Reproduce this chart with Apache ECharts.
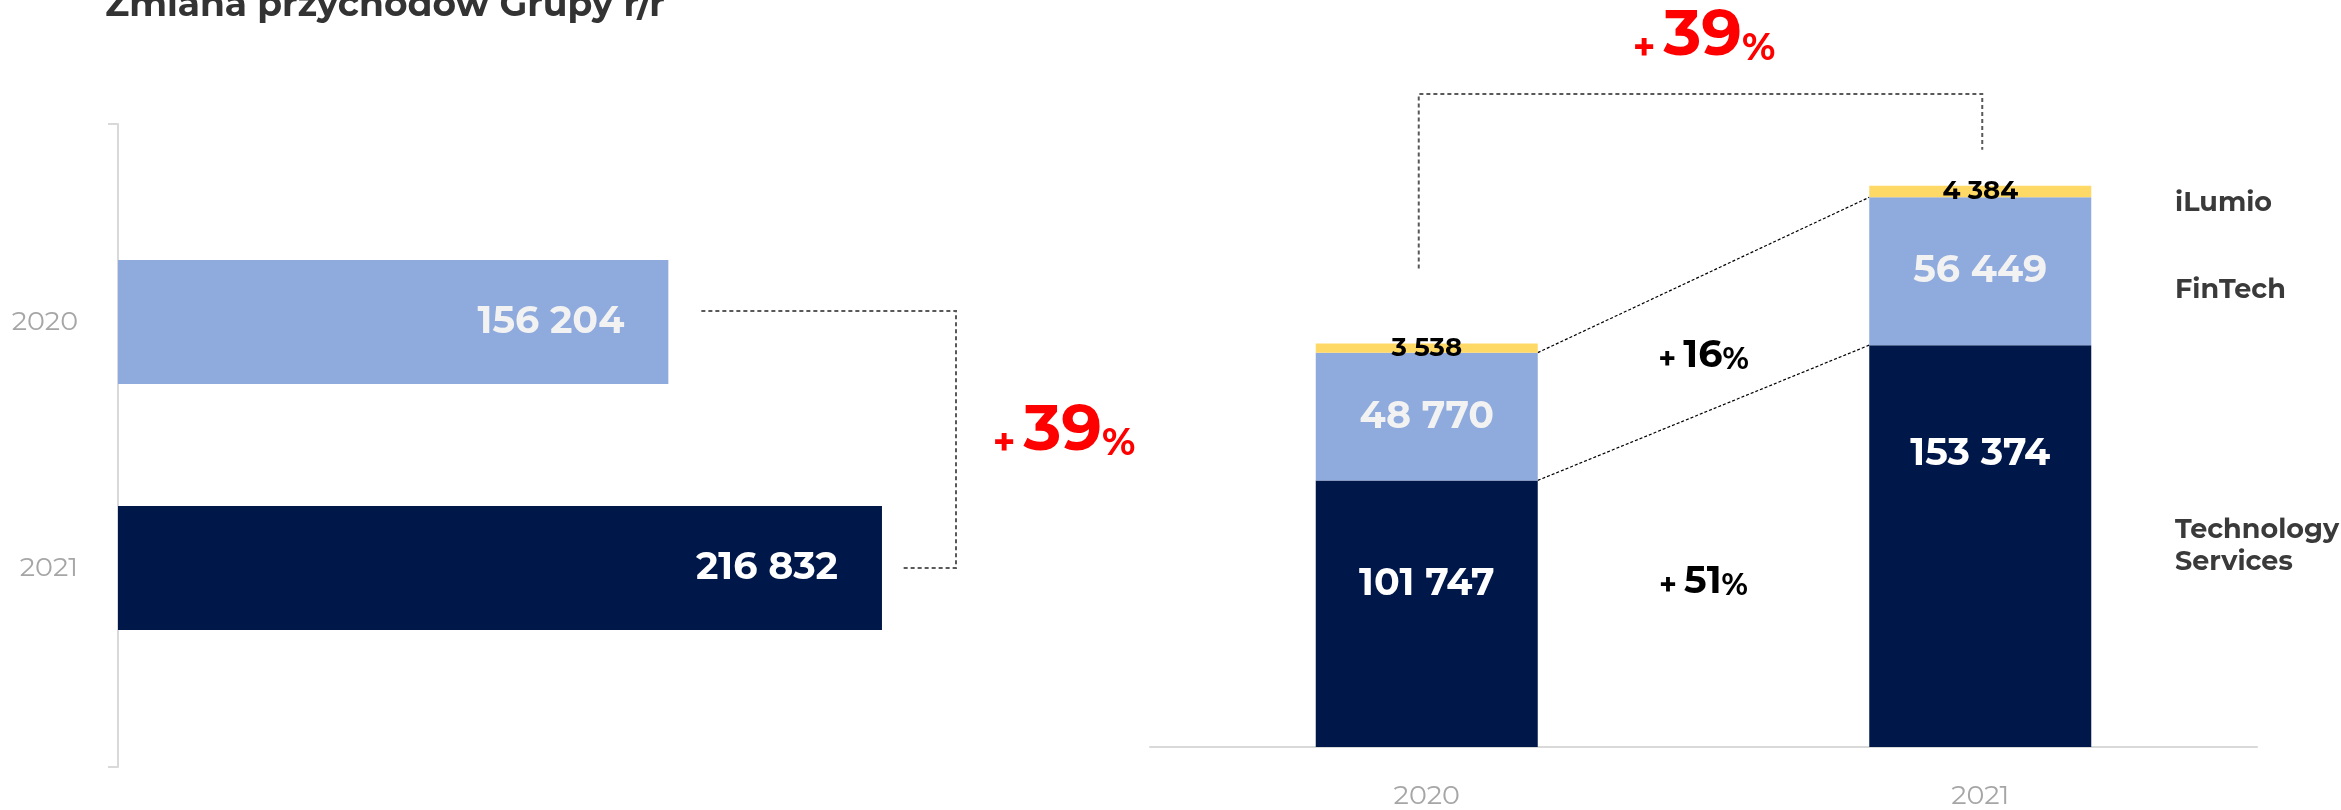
<!DOCTYPE html>
<html>
<head>
<meta charset="utf-8">
<script src="https://cdn.jsdelivr.net/npm/echarts@6/dist/echarts.min.js"></script>
<style>
  html, body { margin: 0; padding: 0; background: #fff; }
  #chart { width: 2341px; height: 810px; }
</style>
</head>
<body>
<div id="chart"></div>
<script>
  // dane (tys. PLN)
  const years = ['2020', '2021']
  const groupRevenue = [156204, 216832]
  const techServices = [101747, 153374]
  const finTech = [48770, 56449]
  const iLumio = [3538, 4384]
  const segmentNames = ['Technology Services', 'FinTech', 'iLumio']
  const growthTotal = '39'
  const growthFinTech = '16'
  const growthTech = '51'

  const FONT = "Montserrat, 'Open Sans', sans-serif"
  const NAVY = '#00174a'
  const BLUE = '#8faadc'
  const YELLOW = '#ffd966'
  const GREY_AXIS = '#d9d9d9'
  // przesunięcie etykiet ciemnych słupków (jak w prezentacji)
  const darkLabelShift = [-30, -92]

  const fmt = v => String(v).replace(/\B(?=(\d{3})+(?!\d))/g, ' ')

  const valueLabel = color => ({
    show: true,
    position: 'inside',
    color: color,
    fontFamily: FONT,
    fontWeight: 'bold',
    fontSize: 38,
    formatter: p => fmt(p.value)
  })

  const chart = echarts.init(document.getElementById('chart'))

  const option = {
    animation: false,
    textStyle: { fontFamily: FONT },
    title: {
      text: 'Zmiana przychodów Grupy r/r',
      left: 100,
      top: -18,
      textStyle: { fontSize: 36, fontWeight: 'bold', color: '#333333', fontFamily: FONT }
    },
    grid: [
      { left: 118, top: 199, width: 1057, height: 492 },
      { left: 118, top: 124, width: 10, height: 643 },
      { left: 1150, top: 92, width: 1107, height: 658 }
    ],
    xAxis: [
      { gridIndex: 0, type: 'value', min: 0, max: 300000, show: false },
      { gridIndex: 1, type: 'value', min: 0, max: 1, show: false },
      {
        gridIndex: 2,
        type: 'category',
        data: years,
        axisLine: { lineStyle: { color: GREY_AXIS, width: 2 } },
        axisTick: { length: 12, lineStyle: { color: GREY_AXIS, width: 2 } },
        axisLabel: { color: '#a6a6a6', fontSize: 27, margin: 36, fontFamily: FONT }
      }
    ],
    yAxis: [
      {
        gridIndex: 0,
        type: 'category',
        data: years,
        inverse: true,
        axisLine: { show: false },
        axisTick: { show: false },
        axisLabel: { color: '#a6a6a6', fontSize: 27, margin: 40, fontFamily: FONT }
      },
      {
        gridIndex: 1,
        type: 'value',
        min: 0,
        max: 1,
        interval: 1,
        axisLine: { show: true, lineStyle: { color: GREY_AXIS, width: 2 } },
        axisTick: { show: true, length: 10, lineStyle: { color: GREY_AXIS, width: 2 } },
        axisLabel: { show: false },
        splitLine: { show: false }
      },
      { gridIndex: 2, type: 'value', min: 0, max: 250000, show: false }
    ],
    series: [
      {
        name: 'Grupa',
        type: 'bar',
        xAxisIndex: 0,
        yAxisIndex: 0,
        barWidth: 124,
        data: [
          { value: groupRevenue[0], itemStyle: { color: BLUE }, label: { color: '#f2f2f2' } },
          { value: groupRevenue[1], itemStyle: { color: NAVY }, label: { color: '#ffffff' } }
        ],
        label: Object.assign(valueLabel('#ffffff'), { position: 'insideRight', distance: 44 })
      },
      {
        name: segmentNames[0],
        type: 'bar',
        stack: 'seg',
        xAxisIndex: 2,
        yAxisIndex: 2,
        barWidth: 222,
        itemStyle: { color: NAVY },
        label: valueLabel('#ffffff'),
        data: techServices.map((v, i) => ({ value: v, label: { offset: [0, darkLabelShift[i]] } }))
      },
      {
        name: segmentNames[1],
        type: 'bar',
        stack: 'seg',
        xAxisIndex: 2,
        yAxisIndex: 2,
        barWidth: 222,
        itemStyle: { color: BLUE },
        label: valueLabel('#f2f2f2'),
        data: finTech
      },
      {
        name: segmentNames[2],
        type: 'bar',
        stack: 'seg',
        xAxisIndex: 2,
        yAxisIndex: 2,
        barWidth: 222,
        itemStyle: { color: YELLOW },
        label: Object.assign(valueLabel('#000000'), { fontSize: 26 }),
        data: iLumio
      }
    ]
  }

  chart.setOption(option)

  // pozycje liczone przez skale wykresu
  const pL = (v, i) => chart.convertToPixel({ gridIndex: 0 }, [v, i])
  const pR = (i, v) => chart.convertToPixel({ gridIndex: 2 }, [i, v])
  const half = 111

  const a = pL(groupRevenue[0], 0)
  const b = pL(groupRevenue[1], 1)
  const bracketX = 956

  const tot0 = techServices[0] + finTech[0] + iLumio[0]
  const tot1 = techServices[1] + finTech[1] + iLumio[1]
  const t0 = pR(0, tot0)
  const t1 = pR(1, tot1)
  const f0 = pR(0, techServices[0] + finTech[0])
  const f1 = pR(1, techServices[1] + finTech[1])
  const d0 = pR(0, techServices[0])
  const d1 = pR(1, techServices[1])

  const dashed = { stroke: '#595959', lineWidth: 2, lineDash: [4, 3], fill: null }
  const dotted = { stroke: '#000000', lineWidth: 1.2, lineDash: [3, 2], fill: null }

  const redRich = big => ({
    p: { fontSize: 38, fontWeight: 'bold', fill: '#ff0000', fontFamily: FONT, padding: [0, 8, 0, 0], verticalAlign: 'bottom' },
    n: { fontSize: big, fontWeight: 'bold', fill: '#ff0000', fontFamily: FONT, verticalAlign: 'bottom' },
    c: { fontSize: 38, fontWeight: 'bold', fill: '#ff0000', fontFamily: FONT, verticalAlign: 'bottom' }
  })
  const blackRich = {
    p: { fontSize: 30, fontWeight: 'bold', fill: '#000000', fontFamily: FONT, padding: [0, 7, 0, 0], verticalAlign: 'bottom' },
    n: { fontSize: 38, fontWeight: 'bold', fill: '#000000', fontFamily: FONT, verticalAlign: 'bottom' },
    c: { fontSize: 30, fontWeight: 'bold', fill: '#000000', fontFamily: FONT, verticalAlign: 'bottom' }
  }

  const legendText = (text, y) => ({
    type: 'text',
    left: 2175,
    top: y,
    style: { text: text, fill: '#3a3a3a', fontSize: 27, fontWeight: 'bold', fontFamily: FONT, lineHeight: 32 }
  })

  const midX = (t0[0] + t1[0]) / 2

  chart.setOption({
    graphic: [
      {
        type: 'polyline',
        shape: { points: [[a[0] + 33, a[1] - 11], [bracketX, a[1] - 11], [bracketX, b[1]], [b[0] + 20, b[1]]] },
        style: dashed
      },
      {
        type: 'polyline',
        shape: { points: [[t0[0] - 8, t0[1] - 75], [t0[0] - 8, 94], [t1[0] + 2, 94], [t1[0] + 2, t1[1] - 36]] },
        style: dashed
      },
      { type: 'line', shape: { x1: f0[0] + half, y1: f0[1], x2: f1[0] - half, y2: f1[1] }, style: dotted },
      { type: 'line', shape: { x1: d0[0] + half, y1: d0[1], x2: d1[0] - half, y2: d1[1] }, style: dotted },
      {
        type: 'text',
        x: 1064,
        y: 431,
        style: { text: '{p|+}{n|' + growthTotal + '}{c|%}', rich: redRich(64), align: 'center', verticalAlign: 'middle' }
      },
      {
        type: 'text',
        x: 1704,
        y: 36,
        style: { text: '{p|+}{n|' + growthTotal + '}{c|%}', rich: redRich(64), align: 'center', verticalAlign: 'middle' }
      },
      {
        type: 'text',
        x: midX,
        y: 356,
        style: { text: '{p|+}{n|' + growthFinTech + '}{c|%}', rich: blackRich, align: 'center', verticalAlign: 'middle' }
      },
      {
        type: 'text',
        x: midX,
        y: 582,
        style: { text: '{p|+}{n|' + growthTech + '}{c|%}', rich: blackRich, align: 'center', verticalAlign: 'middle' }
      },
      legendText(segmentNames[2], 187),
      legendText(segmentNames[1], 274),
      legendText('Technology\nServices', 514)
    ]
  })
</script>
</body>
</html>
